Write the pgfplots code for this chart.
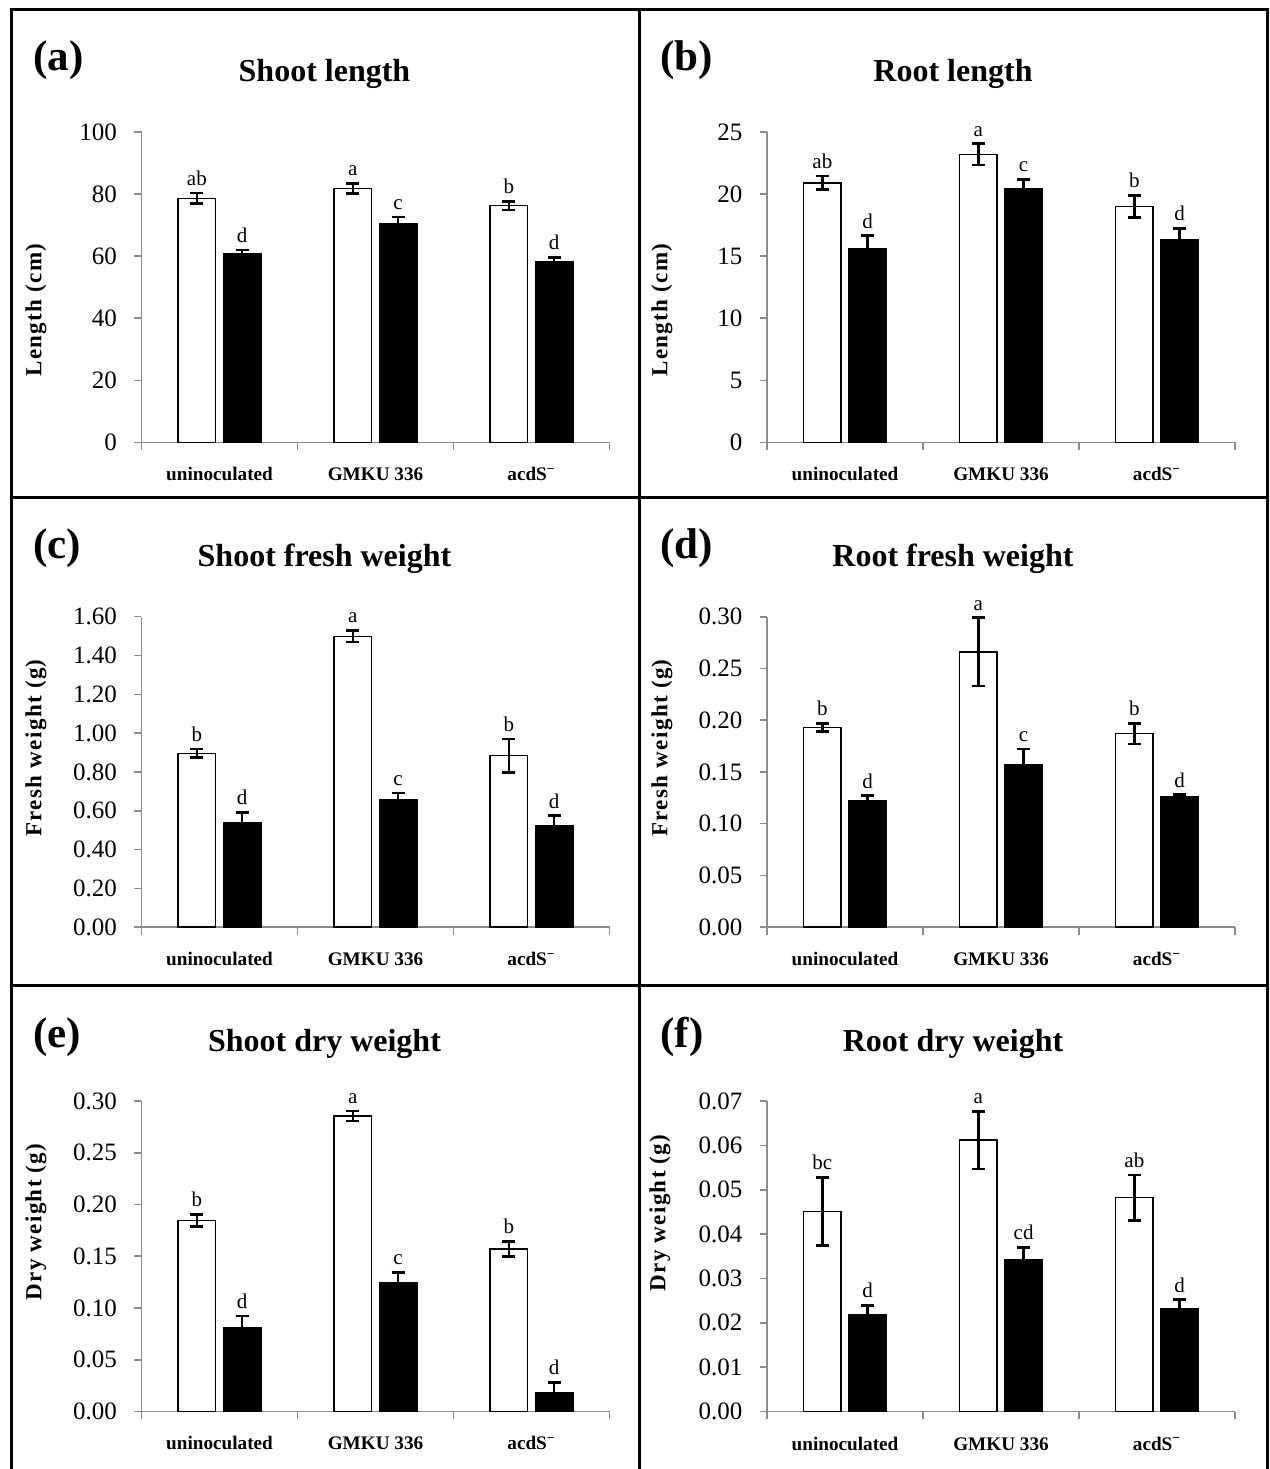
\documentclass[border=0pt]{standalone}
\usepackage{fontspec}
\setmainfont{Liberation Serif}
\usepackage{pgfplots}
\pgfplotsset{compat=1.18}
\usepackage{pgfplotstable}

% columns: white value, white error, white label, black value, black error, black label
\pgfplotstableread{
w we wl b be bl
78.6 1.7 ab 60.7 1.3 d
81.8 1.6 a 70.5 2.1 c
76.3 1.4 b 58.2 1.4 d
}\dataA
\pgfplotstableread{
w we wl b be bl
20.9 0.55 ab 15.6 1.05 d
23.2 0.85 a 20.45 0.72 c
19.0 0.88 b 16.3 0.95 d
}\dataB
\pgfplotstableread{
w we wl b be bl
0.896 0.022 b 0.536 0.056 d
1.499 0.030 a 0.659 0.033 c
0.884 0.086 b 0.522 0.053 d
}\dataC
\pgfplotstableread{
w we wl b be bl
0.193 0.004 b 0.122 0.005 d
0.266 0.033 a 0.157 0.015 c
0.187 0.010 b 0.126 0.002 d
}\dataD
\pgfplotstableread{
w we wl b be bl
0.1846 0.006 b 0.0811 0.011 d
0.2855 0.005 a 0.1245 0.010 c
0.157 0.0074 b 0.0181 0.010 d
}\dataE
\pgfplotstableread{
w we wl b be bl
0.0451 0.0077 bc 0.0219 0.002 d
0.0612 0.0065 a 0.0343 0.0027 cd
0.0482 0.0051 ab 0.0232 0.002 d
}\dataF

\pgfplotsset{
  panel/.style={
    scale only axis, width=234pt, height=155.25pt,
    anchor=south west,
    xmin=0, xmax=3, ymin=0,
    axis x line*=bottom, axis y line*=left,
    axis line style={black!45, line width=0.8pt},
    xtick={0,1,2,3},
    xticklabels={},
    extra x ticks={0.5,1.5,2.5},
    extra x tick labels={uninoculated,GMKU 336,acdS\textsuperscript{−}},
    extra x tick style={major tick length=0pt, tick style={draw=none}},
    tick align=outside,
    major tick length=3.75pt,
    tick style={black!45, line width=0.8pt},
    xticklabel style={font=\bfseries\fontsize{9.6}{10}\selectfont, anchor=base, inner sep=0pt, yshift=-19.25pt},
    yticklabel style={font=\fontsize{12.5}{13}\selectfont, xshift=-5pt},
    scaled y ticks=false,
    /pgf/number format/assume math mode=true,
    /pgf/number format/fixed,
    /pgf/number format/fixed zerofill,
    /pgf/number format/precision=2,
    clip=false,
  },
  intfmt/.style={/pgf/number format/precision=0},
  errs/.style={
    /pgfplots/error bars/y dir=both,
    /pgfplots/error bars/y explicit,
    /pgfplots/error bars/error bar style={line width=1.3pt, black},
    /pgfplots/error bars/error mark options={rotate=90, mark size=3.2pt, line width=1.3pt, black},
  },
  whitebar/.style={ybar, bar width=0.24, bar shift=0pt, fill=white, draw=black, line width=0.75pt, errs},
  blackbar/.style={ybar, bar width=0.24, bar shift=0pt, fill=black, draw=black, line width=0.75pt, errs},
  lab/.style={draw=none, mark=none, nodes near coords, point meta=explicit symbolic,
    every node near coord/.append style={font=\fontsize{10.5}{11}\selectfont, anchor=south, inner sep=0pt, yshift=3.5pt, text=black}},
}

\newcommand{\bars}[1]{%
  \addplot[whitebar] table[x expr=\coordindex+0.355, y=w, y error=we]{#1};
  \addplot[blackbar] table[x expr=\coordindex+0.645, y=b, y error=be]{#1};
  \addplot[lab] table[x expr=\coordindex+0.355, y expr=\thisrow{w}+\thisrow{we}, meta=wl]{#1};
  \addplot[lab] table[x expr=\coordindex+0.645, y expr=\thisrow{b}+\thisrow{be}, meta=bl]{#1};
}

\begin{document}
\begin{tikzpicture}
\useasboundingbox (0,0) rectangle (635pt,734.5pt);
% frame
\draw[line width=1.5pt] (5.5pt,0) -- (5.5pt,729.5pt) -- (633.5pt,729.5pt) -- (633.5pt,0);
\draw[line width=1.5pt] (319.5pt,0) -- (319.5pt,729.5pt);
\draw[line width=1.5pt] (5.5pt,485.5pt) -- (633.5pt,485.5pt);
\draw[line width=1.5pt] (5.5pt,241.75pt) -- (633.5pt,241.75pt);

% panel letters and titles
\tikzset{plet/.style={anchor=base west, inner sep=0pt, font=\bfseries\fontsize{21.5}{22}\selectfont},
         ptit/.style={anchor=base, inner sep=0pt, font=\bfseries\fontsize{16}{17}\selectfont},
         ylab/.style={rotate=90, inner sep=0pt, font=\bfseries\fontsize{11.5}{12}\selectfont\addfontfeature{LetterSpace=6}}}
\node[plet] at (16.5pt,699pt) {(a)};
\node[plet] at (330pt,699pt) {(b)};
\node[plet] at (16.5pt,455pt) {(c)};
\node[plet] at (330pt,455pt) {(d)};
\node[plet] at (16.5pt,210.5pt) {(e)};
\node[plet] at (330pt,210.5pt) {(f)};
\node[ptit] at (162.25pt,693.5pt) {Shoot length};
\node[ptit] at (476.5pt,693.5pt) {Root length};
\node[ptit] at (162.25pt,451pt) {Shoot fresh weight};
\node[ptit] at (476.5pt,451pt) {Root fresh weight};
\node[ptit] at (162.25pt,208.5pt) {Shoot dry weight};
\node[ptit] at (476.5pt,208.5pt) {Root dry weight};
\node[ylab] at (18pt,579.5pt) {Length (cm)};
\node[ylab] at (331pt,579.5pt) {Length (cm)};
\node[ylab] at (18pt,360.5pt) {Fresh weight (g)};
\node[ylab] at (331pt,360.5pt) {Fresh weight (g)};
\node[ylab] at (18pt,123.5pt) {Dry weight (g)};
\node[ylab] at (330pt,128pt) {Dry weight (g)};

\begin{axis}[panel, at={(70.75pt,513.25pt)}, ymax=100, ytick={0,20,40,60,80,100}, intfmt]
\bars{\dataA}
\end{axis}
\begin{axis}[panel, at={(383.5pt,513.25pt)}, ymax=25, ytick={0,5,10,15,20,25}, intfmt]
\bars{\dataB}
\end{axis}
\begin{axis}[panel, at={(70.75pt,270.9pt)}, ymax=1.6, ytick={0,0.2,0.4,0.6,0.8,1.0,1.2,1.4,1.6}]
\bars{\dataC}
\end{axis}
\begin{axis}[panel, at={(383.5pt,270.9pt)}, ymax=0.3, ytick={0,0.05,0.1,0.15,0.2,0.25,0.3}]
\bars{\dataD}
\end{axis}
\begin{axis}[panel, at={(70.75pt,28.75pt)}, ymax=0.3, ytick={0,0.05,0.1,0.15,0.2,0.25,0.3}]
\bars{\dataE}
\end{axis}
\begin{axis}[panel, at={(383.5pt,28.75pt)}, ymax=0.07, ytick={0,0.01,0.02,0.03,0.04,0.05,0.06,0.07}]
\bars{\dataF}
\end{axis}
\end{tikzpicture}
\end{document}
